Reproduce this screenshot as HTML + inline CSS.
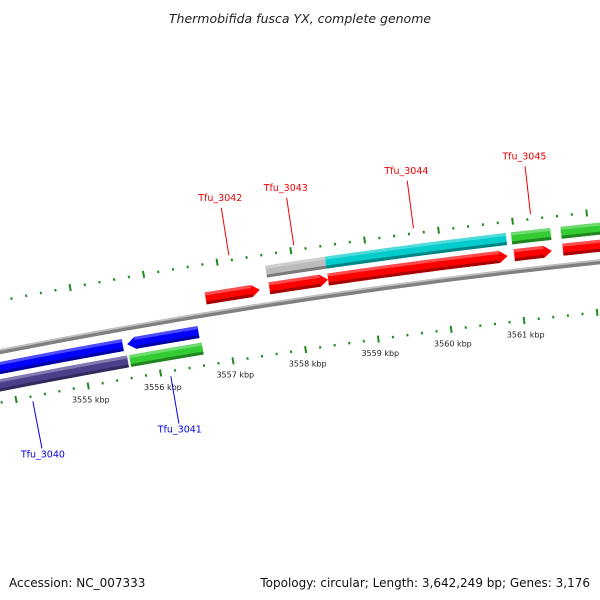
<!DOCTYPE html>
<html><head><meta charset="utf-8">
<style>
html,body{margin:0;padding:0;background:#fff;}
svg{display:block;}
text{font-family:"DejaVu Sans","Liberation Sans",sans-serif;}
</style></head>
<body>
<svg id="map" width="600" height="600" viewBox="0 0 600 600" xmlns="http://www.w3.org/2000/svg">
<rect width="600" height="600" fill="#fff"/>
<text x="300" y="23" text-anchor="middle" font-size="12.5" font-style="italic" fill="#222">Thermobifida fusca YX, complete genome</text>
<text x="9" y="587" font-size="12" fill="#111">Accession: NC_007333</text>
<text x="590" y="587" text-anchor="end" font-size="12" fill="#111">Topology: circular; Length: 3,642,249 bp; Genes: 3,176</text>
<g id="layer"></g>
</svg>
<script>
// ---- data (kbp) ----
const geneStarts = [3556.77, 3557.64, 3558.44, 3560.97, 3561.63, 3557.63, 3558.44, 3560.96, 3561.63, 3553.0, 3555.62, 3553.0, 3555.62];
const geneEnds   = [3557.51, 3558.44, 3560.88, 3561.48, 3562.6, 3558.44, 3560.89, 3561.49, 3562.6, 3555.56, 3556.60, 3555.59, 3556.62];
const geneStrands= [1,1,1,1,1, 1,1,1,1, -1,-1, -1,-1];
const geneRows   = [1,1,1,1,1, 2,2,2,2, 1,1, 2,2];
const geneArrows = [1,1,1,1,1, 0,0,0,0, 1,1, 0,0];
const geneColors = ["#ff0000","#ff0000","#ff0000","#ff0000","#ff0000","#bbbbbb","#00cccc","#33cc33","#33cc33","#0000ff","#0000ff","#4b3f8c","#33cc33"];
const labelNames = ["Tfu_3040","Tfu_3041","Tfu_3042","Tfu_3043","Tfu_3044","Tfu_3045"];
const labelPos   = [3554.22, 3556.13, 3557.17, 3558.05, 3559.67, 3561.25];
const labelStrand= [-1,-1,1,1,1,1];
const rulerMajors = [3555,3556,3557,3558,3559,3560,3561];

// ---- geometry ----
const CX=1292, CY=6926, R=6700;
const TH0=-8.53, DEG_PER_KBP=0.633;
function theta(kbp){return (TH0+(kbp-3558)*DEG_PER_KBP)*Math.PI/180;}
function pt(kbp,off){const t=theta(kbp),r=R+off;return [CX+r*Math.sin(t),CY-r*Math.cos(t)];}
function f(p){return p[0].toFixed(2)+","+p[1].toFixed(2);}
const NS="http://www.w3.org/2000/svg";
const layer=document.getElementById('layer');
function mk(tag,attrs){const e=document.createElementNS(NS,tag);for(const k in attrs)e.setAttribute(k,attrs[k]);layer.appendChild(e);return e;}
function arcBand(a,b,o1,o2){
  const p1=pt(a,o1),p2=pt(b,o1),p3=pt(b,o2),p4=pt(a,o2);
  return "M"+f(p1)+" A"+(R+o1)+","+(R+o1)+" 0 0 1 "+f(p2)+" L"+f(p3)+" A"+(R+o2)+","+(R+o2)+" 0 0 0 "+f(p4)+" Z";
}
const AH=8/73;
function geneShape(a,b,oc,h,strand,arrow){
  const o1=oc+h/2,o2=oc-h/2;
  if(!arrow) return arcBand(a,b,o1,o2);
  if(strand>0){
    const m=b-AH;
    return "M"+f(pt(a,o1))+" A"+(R+o1)+","+(R+o1)+" 0 0 1 "+f(pt(m,o1))+" L"+f(pt(b,oc))+" L"+f(pt(m,o2))+" A"+(R+o2)+","+(R+o2)+" 0 0 0 "+f(pt(a,o2))+" Z";
  } else {
    const m=a+AH;
    return "M"+f(pt(a,oc))+" L"+f(pt(m,o1))+" A"+(R+o1)+","+(R+o1)+" 0 0 1 "+f(pt(b,o1))+" L"+f(pt(b,o2))+" A"+(R+o2)+","+(R+o2)+" 0 0 0 "+f(pt(m,o2))+" Z";
  }
}
function shade(hex,k){const n=parseInt(hex.slice(1),16);let r=n>>16,g=(n>>8)&255,b=n&255;
  if(k>0){r=r+(255-r)*k;g=g+(255-g)*k;b=b+(255-b)*k;}else{r*=1+k;g*=1+k;b*=1+k;}
  return "rgb("+Math.round(r)+","+Math.round(g)+","+Math.round(b)+")";}

// backbone
let bb=mk('path',{d:arcBand(3550,3565,2.5,-2.5),fill:'#808080'});


let bbl=mk('path',{d:arcBand(3550,3565,2.5,0.8),fill:'#c0c0c0'});



// rulers
[50,-50].forEach(function(off){
  for(let i=0;i<=75;i++){
    const kb=3550+i*0.2;
    const major=(i%5===0);
    const len=major?7:2.5;
    const a=pt(kb,off-len/2),b=pt(kb,off+len/2);
    const ln=mk('line',{x1:a[0].toFixed(2),y1:a[1].toFixed(2),x2:b[0].toFixed(2),y2:b[1].toFixed(2),stroke:'#1f8a1f','stroke-width':2});
    
    
  }
});
rulerMajors.forEach(function(kb){
  const p=pt(kb,-64);
  const t=mk('text',{x:p[0].toFixed(1),y:(p[1]+3).toFixed(1),'text-anchor':'middle','font-size':8,fill:'#222'});
  t.textContent=kb+" kbp";
  
  
});

// genes
for(let i=0;i<geneStarts.length;i++){
  const oc=geneStrands[i]*(geneRows[i]===1?16:33);
  const h=12,c=geneColors[i];
  let a=geneStarts[i],b=geneEnds[i];
  const g=mk('path',{d:geneShape(a,b,oc,h,geneStrands[i],geneArrows[i]),fill:c});
  
  
  if(geneArrows[i]){ if(geneStrands[i]>0) b=b-AH; else a=a+AH; }
  const d=mk('path',{d:geneShape(a,b,oc-4.5,3,1,0),fill:shade(c,-0.35)});
  
  
  const l=mk('path',{d:geneShape(a,b,oc+4.5,3,1,0),fill:shade(c,0.3)});
  
  
}

// labels
for(let i=0;i<labelNames.length;i++){
  const s=labelStrand[i],kb=labelPos[i];
  const a=pt(kb,s*55),b=pt(kb,s*103),tp=pt(kb,s*(s>0?109:108));
  const col=s>0?'#ee0000':'#0000ee';
  const ln=mk('line',{x1:a[0].toFixed(2),y1:a[1].toFixed(2),x2:b[0].toFixed(2),y2:b[1].toFixed(2),stroke:col,'stroke-width':1});
  
  
  const t=mk('text',{x:tp[0].toFixed(1),y:(tp[1]+(s>0?-1:4)).toFixed(1),'text-anchor':'middle','font-size':9.5,fill:col});
  t.textContent=labelNames[i];
  
  
}
</script>
</body></html>
